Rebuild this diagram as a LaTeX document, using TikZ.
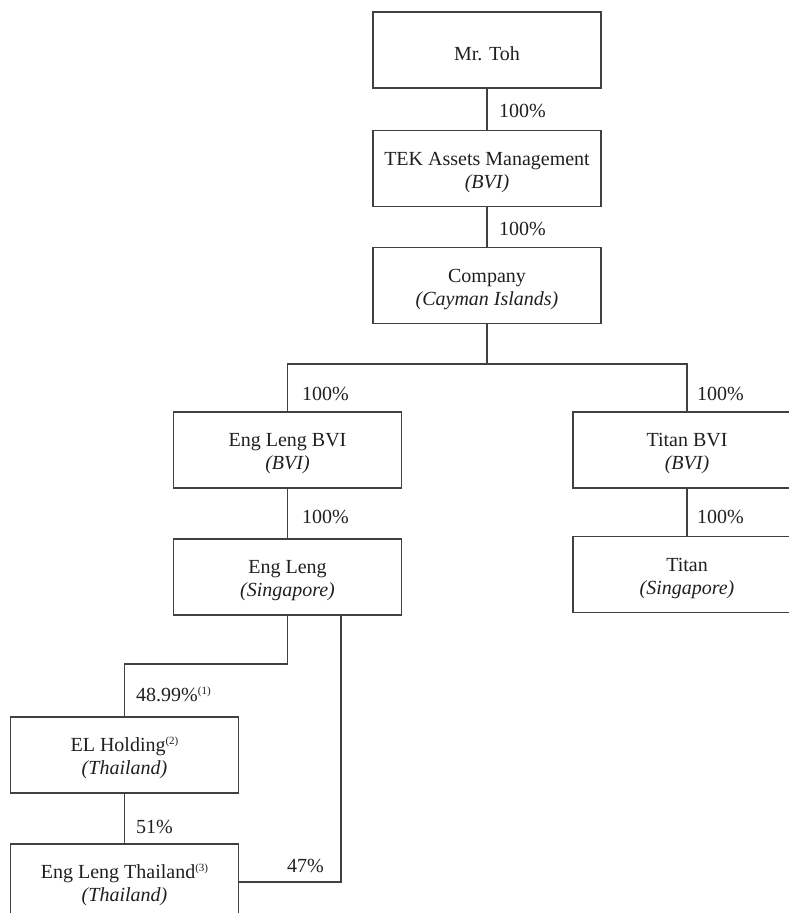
\documentclass[tikz,border=0pt]{standalone}
\usepackage{fontspec}
\setmainfont{Liberation Serif}
\newcommand\supn[1]{\raisebox{7pt}{\fontsize{11}{11}\selectfont(#1)}}
\newcommand\tstrut{\rule{0pt}{21pt}}
\begin{document}
\begin{tikzpicture}[x=1pt,y=-1pt,
  box/.style={draw=black!75, line width=1.1pt, minimum width=228pt, minimum height=76pt,
    inner sep=0pt, align=center, font=\fontsize{20}{23}\selectfont, text=black!88},
  lbl/.style={anchor=base west, inner sep=0pt, font=\fontsize{20}{23}\selectfont, text=black!88},
  conn/.style={draw=black!75, line width=1.1pt}]
\useasboundingbox (0,0) rectangle (789,913);
\clip (0,0) rectangle (789,913);
\node[box] (toh) at (487,50) {\tstrut Mr. Toh};
\node[box] (tek) at (487,168.5) {\tstrut TEK Assets Management\\\textit{(BVI)}};
\node[box] (comp) at (487,285.5) {\tstrut Company\\\textit{(Cayman Islands)}};
\node[box] (elbvi) at (287.5,450) {\tstrut Eng Leng BVI\\\textit{(BVI)}};
\node[box] (tbvi) at (687,450) {\tstrut Titan BVI\\\textit{(BVI)}};
\node[box] (el) at (287.5,577) {\tstrut Eng Leng\\\textit{(Singapore)}};
\node[box] (titan) at (687,574.5) {\tstrut Titan\\\textit{(Singapore)}};
\node[box] (elh) at (124.5,755) {\tstrut EL Holding\supn{2}\\\textit{(Thailand)}};
\node[box] (elt) at (124.5,882) {\tstrut Eng Leng Thailand\supn{3}\\\textit{(Thailand)}};
\coordinate (bus) at (487,364);
\coordinate (elj) at (124.5,664);
\draw[conn] (toh.south) -- (tek.north);
\draw[conn] (tek.south) -- (comp.north);
\draw[conn] (comp.south) -- (bus);
\draw[conn] (elbvi.north) |- (bus) -| (tbvi.north);
\draw[conn] (elbvi.south) -- (el.north);
\draw[conn] (tbvi.south) -- (titan.north);
\draw[conn] (el.south) |- (elj) -- (elh.north);
\draw[conn] (elh.south) -- (elt.north);
\draw[conn] ([xshift=53.5pt]el.south) |- (elt.east);
\node[lbl] (l1) at (499,117) {100\%};
\node[lbl] (l2) at (499,235) {100\%};
\node[lbl] (l3) at (302,400) {100\%};
\node[lbl] (l4) at (697,400) {100\%};
\node[lbl] (l5) at (302,523) {100\%};
\node[lbl] (l6) at (697,523) {100\%};
\node[lbl] (l7) at (136,701) {48.99\%\supn{1}};
\node[lbl] (l8) at (136,833) {51\%};
\node[lbl] (l9) at (287,872) {47\%};
\end{tikzpicture}
\end{document}
